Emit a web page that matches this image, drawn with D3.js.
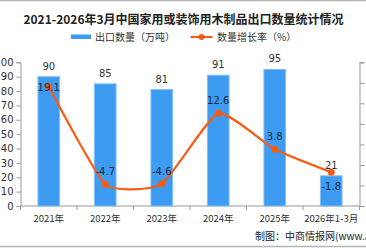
<!DOCTYPE html>
<html>
<head>
<meta charset="utf-8">
<script src="https://cdn.jsdelivr.net/npm/d3@7"></script>
<style>
  html, body { margin: 0; padding: 0; background: #fff; }
  svg { display: block; font-family: "Noto Sans CJK SC", "DejaVu Sans", sans-serif; }
</style>
</head>
<body>
<div id="chart"></div>
<script>
// data
const categories = ['2021年', '2022年', '2023年', '2024年', '2025年', '2026年1-3月'];
const volume = [90, 85, 81, 91, 95, 21];           // 出口数量（万吨）
const growth = [19.1, -4.7, -4.6, 12.6, 3.8, -1.8]; // 数量增长率（%）
const leftTicks = [0, 10, 20, 30, 40, 50, 60, 70, 80, 90, 100];
const rightTicks = [-10, -5, 0, 5, 10, 15, 20, 25];

const W = 366, H = 248;
const BLUE = '#3d9cf2', ORANGE = '#fa5a12';
const x0 = 20.5, x1 = 359.5, yTop = 62.3, yBot = 206;

const svg = d3.select('#chart').append('svg')
  .attr('width', W).attr('height', H);

// frame lines top / bottom
svg.append('line').attr('x1', 0).attr('x2', W).attr('y1', 0.5).attr('y2', 0.5)
  .attr('stroke', '#b5b5b5').attr('stroke-width', 1.5);
svg.append('line').attr('x1', 0).attr('x2', W).attr('y1', 246.5).attr('y2', 246.5)
  .attr('stroke', '#b5b5b5').attr('stroke-width', 1.5);

// title
svg.append('text')
  .attr('x', W / 2 + 0.5).attr('y', 23.5)
  .attr('text-anchor', 'middle')
  .attr('font-size', '12px').attr('font-weight', 'bold').attr('fill', '#222')
  .text('2021-2026年3月中国家用或装饰用木制品出口数量统计情况');

// legend
const lg = svg.append('g').attr('font-size', '10px').attr('fill', '#333');
lg.append('rect').attr('x', 71).attr('y', 34.5).attr('width', 20).attr('height', 4.5).attr('fill', BLUE);
lg.append('text').attr('x', 95).attr('y', 40.5).text('出口数量（万吨）');
lg.append('line').attr('x1', 190.5).attr('x2', 212.5).attr('y1', 37).attr('y2', 37)
  .attr('stroke', ORANGE).attr('stroke-width', 2);
lg.append('circle').attr('cx', 201.5).attr('cy', 37).attr('r', 3).attr('fill', ORANGE);
lg.append('text').attr('x', 217).attr('y', 40.5).text('数量增长率（%）');

// scales
const x = d3.scaleBand().domain(categories).range([x0, x1]).paddingInner(0.6).paddingOuter(0.3);
const xc = d => x(d) + x.bandwidth() / 2;
const yL = d3.scaleLinear().domain([0, 100]).range([yBot, yTop]);
const yR = d3.scaleLinear().domain([-10, 25]).range([yBot, yTop]);

// left axis
const axL = svg.append('g').attr('transform', `translate(${x0},0)`)
  .call(d3.axisLeft(yL).tickValues(leftTicks).tickSize(4).tickPadding(3));
axL.select('.domain').attr('stroke', '#999');
axL.selectAll('.tick line').attr('stroke', '#999');
axL.selectAll('.tick text').attr('font-size', '10px').attr('fill', '#333')
  .attr('font-family', '"DejaVu Sans", sans-serif');

// right axis (no labels)
const axR = svg.append('g').attr('transform', `translate(${x1},0)`)
  .call(d3.axisRight(yR).tickValues(rightTicks).tickSize(5).tickFormat(''));
axR.select('.domain').attr('stroke', '#999');
axR.selectAll('.tick line').attr('stroke', '#999');

// bottom axis with ticks between categories
const axB = svg.append('g').attr('transform', `translate(0,${yBot})`);
axB.append('line').attr('x1', x0).attr('x2', x1).attr('stroke', '#999');
const step = x.step();
d3.range(categories.length + 1).forEach(i => {
  const tx = x0 + i * (x1 - x0) / categories.length;
  axB.append('line').attr('x1', tx).attr('x2', tx).attr('y1', 0).attr('y2', 4).attr('stroke', '#999');
});
axB.selectAll('text.cat').data(categories).join('text')
  .attr('class', 'cat')
  .attr('x', d => xc(d)).attr('y', 15.5)
  .attr('text-anchor', 'middle').attr('font-size', '9.5px').attr('fill', '#333')
  .text(d => d);

// bars
svg.append('g').selectAll('rect').data(volume).join('rect')
  .attr('x', (d, i) => x(categories[i]) + 0.5)
  .attr('y', d => yL(d))
  .attr('width', x.bandwidth() - 1)
  .attr('height', d => yBot - yL(d))
  .attr('fill', BLUE)
  .attr('stroke', '#7fbff7').attr('stroke-width', 1);

// bar value labels
svg.append('g').selectAll('text').data(volume).join('text')
  .attr('x', (d, i) => xc(categories[i]))
  .attr('y', d => yL(d) - 7)
  .attr('text-anchor', 'middle').attr('font-size', '10px').attr('fill', '#333')
  .attr('font-family', '"DejaVu Sans", sans-serif')
  .text(d => d);

// growth line
const pts = growth.map((d, i) => [xc(categories[i]), yR(d)]);
svg.append('path')
  .attr('d', d3.line().curve(d3.curveCardinal.tension(0.5))(pts))
  .attr('fill', 'none').attr('stroke', ORANGE).attr('stroke-width', 2.2);
svg.append('g').selectAll('circle').data(pts).join('circle')
  .attr('cx', d => d[0]).attr('cy', d => d[1]).attr('r', 3.5).attr('fill', ORANGE);

// growth labels: above the point, except first (on it) and last (below it)
svg.append('g').selectAll('text').data(growth).join('text')
  .attr('x', (d, i) => xc(categories[i]))
  .attr('y', (d, i) => yR(d) + (i === 0 ? 4 : i === growth.length - 1 ? 18 : -9))
  .attr('text-anchor', 'middle').attr('font-size', '10px').attr('fill', '#1a2a3a')
  .attr('font-family', '"DejaVu Sans", sans-serif')
  .text(d => d.toFixed(1));

// source
svg.append('text')
  .attr('x', 255).attr('y', 239.5)
  .attr('font-size', '10px').attr('fill', '#222')
  .text('制图：中商情报网(www.askci.com)');
</script>
</body>
</html>
